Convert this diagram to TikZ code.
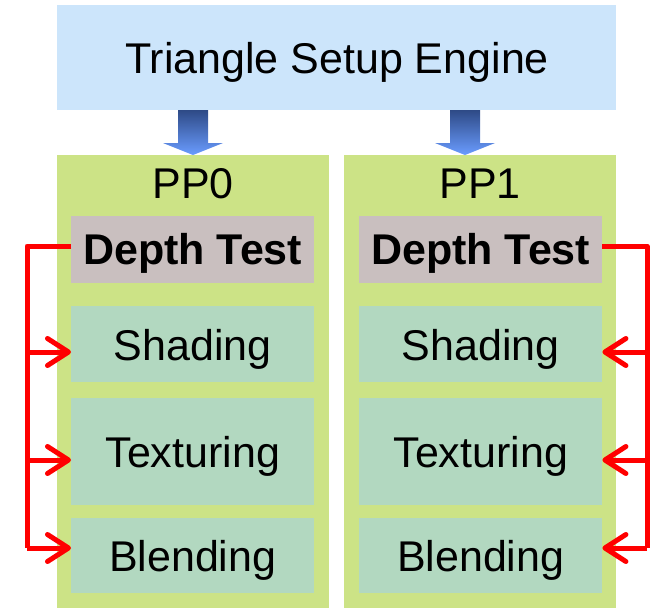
\documentclass[tikz,border=0pt]{standalone}
\usepackage{fontspec}
\setmainfont{Liberation Sans}
\usetikzlibrary{arrows.meta,calc}
\definecolor{engineblue}{HTML}{CCE5FB}
\definecolor{ppgreen}{HTML}{CCE386}
\definecolor{depthgray}{HTML}{C9BFBF}
\definecolor{stagegreen}{HTML}{B2D8C0}
\definecolor{arrowdark}{HTML}{2E4A86}
\definecolor{arrowlight}{HTML}{6A9CFF}
\definecolor{linkred}{HTML}{FF0000}
\tikzset{
  x=1pt, y=-1pt,
  bigtext/.style={font=\fontsize{43}{43}\selectfont},
  boldtext/.style={font=\fontsize{43}{43}\selectfont\bfseries},
  panel/.style={fill=#1, draw=none, inner sep=0pt, anchor=north west},
  stagebox/.style={panel=stagegreen},
  link/.style={draw=linkred, line width=5pt, line join=round},
  linktip/.style={link, -{Straight Barb[length=21pt,width=27pt,round]}},
}
\newcommand{\blockarrow}[2]{%
  \shade[top color=arrowdark, bottom color=arrowlight]
    (#1-15,110) -- (#1+15,110) -- (#1+15,143) -- (#1+30,143)
    -- (#1,#2) -- (#1-30,143) -- (#1-15,143) -- cycle;}
\begin{document}
\begin{tikzpicture}
\useasboundingbox (0,0) rectangle (656,608);

% setup engine
\node[panel=engineblue, minimum width=559pt, minimum height=105pt] (tse) at (57,5) {};
\node[bigtext] at (337,62) {Triangle Setup Engine};

% pixel pipelines
\node[panel=ppgreen, minimum width=272pt, minimum height=453pt] (pp0) at (57,155) {};
\node[panel=ppgreen, minimum width=272pt, minimum height=453pt] (pp1) at (344,155) {};
\node[bigtext] (pp0label) at (193,184) {PP0};
\node[bigtext] (pp1label) at (480,184) {PP1};

% arrows from the engine
\blockarrow{193}{155}
\blockarrow{465}{155}

% stages of PP0
\node[panel=depthgray, minimum width=243pt, minimum height=67pt] (d0) at (71,216) {};
\node[stagebox, minimum width=243pt, minimum height=76pt] (s0) at (71,306) {};
\node[stagebox, minimum width=243pt, minimum height=107pt] (t0) at (71,398) {};
\node[stagebox, minimum width=243pt, minimum height=75pt] (b0) at (71,518) {};
\node[boldtext] at ($(d0.center)+(0,4)$) {Depth Test};
\node[bigtext] at ($(s0.center)+(0,5)$) {Shading};
\node[bigtext] at ($(t0.center)+(0,5)$) {Texturing};
\node[bigtext] at ($(b0.center)+(0,5)$) {Blending};

% stages of PP1
\node[panel=depthgray, minimum width=243pt, minimum height=67pt] (d1) at (359,216) {};
\node[stagebox, minimum width=243pt, minimum height=76pt] (s1) at (359,306) {};
\node[stagebox, minimum width=243pt, minimum height=107pt] (t1) at (359,398) {};
\node[stagebox, minimum width=243pt, minimum height=75pt] (b1) at (359,518) {};
\node[boldtext] at ($(d1.center)+(0,4)$) {Depth Test};
\node[bigtext] at ($(s1.center)+(0,5)$) {Shading};
\node[bigtext] at ($(t1.center)+(0,5)$) {Texturing};
\node[bigtext] at ($(b1.center)+(0,5)$) {Blending};

% depth-test result links, PP0
\coordinate (l0) at (27,246);
\draw[link] (d0.west |- l0) -- (l0) -- (27,548);
\draw[linktip] (27,352) -- (s0.west |- 0,352);
\draw[linktip] (27,460) -- (t0.west |- 0,460);
\draw[linktip] (27,548) -- (b0.west |- 0,548);

% depth-test result links, PP1
\coordinate (l1) at (647,246);
\draw[link] (d1.east |- l1) -- (l1) -- (647,548);
\draw[linktip] (647,352) -- (s1.east |- 0,352);
\draw[linktip] (647,460) -- (t1.east |- 0,460);
\draw[linktip] (647,548) -- (b1.east |- 0,548);
\end{tikzpicture}
\end{document}
